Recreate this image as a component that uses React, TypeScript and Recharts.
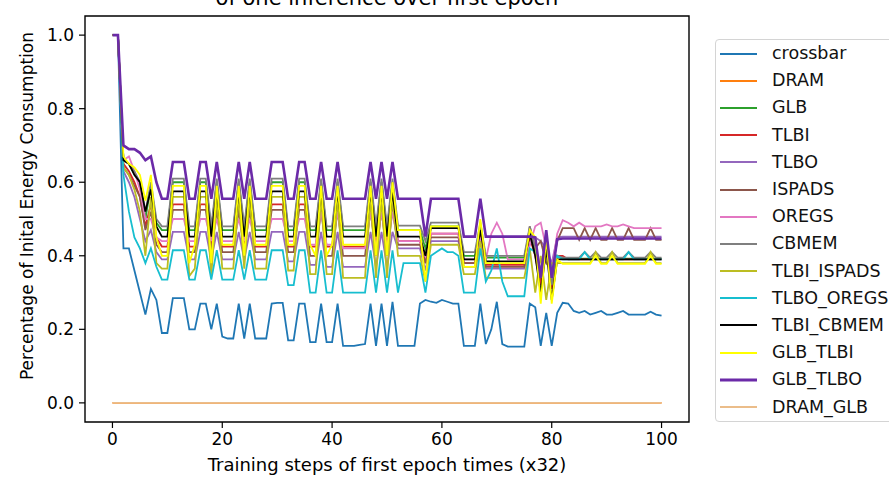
import React from 'react';
import { LineChart, Line, XAxis, YAxis, ReferenceArea } from 'recharts';

const steps = [
  0, 1, 2, 3, 4, 5, 6, 7, 8, 9,
  10, 11, 12, 13, 14, 15, 16, 17, 18, 19,
  20, 21, 22, 23, 24, 25, 26, 27, 28, 29,
  30, 31, 32, 33, 34, 35, 36, 37, 38, 39,
  40, 41, 42, 43, 44, 45, 46, 47, 48, 49,
  50, 51, 52, 53, 54, 55, 56, 57, 58, 59,
  60, 61, 62, 63, 64, 65, 66, 67, 68, 69,
  70, 71, 72, 73, 74, 75, 76, 77, 78, 79,
  80, 81, 82, 83, 84, 85, 86, 87, 88, 89,
  90, 91, 92, 93, 94, 95, 96, 97, 98, 99, 100,
];

const xTicks = [0, 20, 40, 60, 80, 100];
const yTicks = [0, 0.2, 0.4, 0.6, 0.8, 1.0];

const crossbar = [
  1.0, 1.0, 0.42, 0.42, 0.36, 0.30, 0.24, 0.31, 0.28, 0.19,
  0.19, 0.285, 0.285, 0.285, 0.20, 0.20, 0.27, 0.27, 0.20, 0.27,
  0.18, 0.175, 0.175, 0.27, 0.175, 0.27, 0.175, 0.175, 0.175, 0.27,
  0.272, 0.272, 0.17, 0.17, 0.27, 0.27, 0.165, 0.165, 0.27, 0.165,
  0.165, 0.27, 0.155, 0.155, 0.155, 0.158, 0.16, 0.27, 0.155, 0.27,
  0.155, 0.275, 0.155, 0.155, 0.155, 0.155, 0.27, 0.28, 0.275, 0.272,
  0.28, 0.275, 0.27, 0.27, 0.155, 0.155, 0.155, 0.27, 0.16, 0.2,
  0.275, 0.16, 0.153, 0.153, 0.153, 0.153, 0.27, 0.26, 0.155, 0.245,
  0.155, 0.245, 0.272, 0.27, 0.25, 0.245, 0.25, 0.24, 0.245, 0.25,
  0.24, 0.24, 0.245, 0.25, 0.24, 0.24, 0.24, 0.24, 0.248, 0.24, 0.237,
];

const dram = [
  0, 0, 0, 0, 0, 0, 0, 0, 0, 0,
  0, 0, 0, 0, 0, 0, 0, 0, 0, 0,
  0, 0, 0, 0, 0, 0, 0, 0, 0, 0,
  0, 0, 0, 0, 0, 0, 0, 0, 0, 0,
  0, 0, 0, 0, 0, 0, 0, 0, 0, 0,
  0, 0, 0, 0, 0, 0, 0, 0, 0, 0,
  0, 0, 0, 0, 0, 0, 0, 0, 0, 0,
  0, 0, 0, 0, 0, 0, 0, 0, 0, 0,
  0, 0, 0, 0, 0, 0, 0, 0, 0, 0,
  0, 0, 0, 0, 0, 0, 0, 0, 0, 0, 0,
];

const glb = [
  1.0, 1.0, 0.66, 0.65, 0.62, 0.60, 0.50, 0.59, 0.49, 0.47,
  0.47, 0.60, 0.60, 0.60, 0.47, 0.47, 0.60, 0.60, 0.47, 0.60,
  0.47, 0.47, 0.47, 0.60, 0.47, 0.60, 0.47, 0.47, 0.47, 0.60,
  0.60, 0.60, 0.47, 0.47, 0.60, 0.60, 0.47, 0.47, 0.60, 0.47,
  0.47, 0.60, 0.47, 0.47, 0.47, 0.47, 0.47, 0.60, 0.47, 0.60,
  0.47, 0.60, 0.47, 0.47, 0.47, 0.47, 0.47, 0.42, 0.48, 0.48,
  0.48, 0.48, 0.48, 0.48, 0.40, 0.40, 0.40, 0.48, 0.395, 0.395,
  0.395, 0.395, 0.395, 0.395, 0.395, 0.395, 0.47, 0.41, 0.33, 0.43,
  0.31, 0.40, 0.395, 0.392, 0.392, 0.392, 0.392, 0.392, 0.392, 0.392,
  0.392, 0.392, 0.392, 0.392, 0.392, 0.392, 0.392, 0.392, 0.392, 0.392, 0.392,
];

const tlbi = [
  1.0, 1.0, 0.65, 0.63, 0.60, 0.56, 0.48, 0.54, 0.45, 0.425,
  0.425, 0.54, 0.54, 0.54, 0.425, 0.425, 0.54, 0.54, 0.425, 0.54,
  0.425, 0.425, 0.425, 0.54, 0.425, 0.54, 0.425, 0.425, 0.425, 0.54,
  0.54, 0.54, 0.425, 0.425, 0.54, 0.54, 0.425, 0.425, 0.54, 0.425,
  0.425, 0.54, 0.425, 0.425, 0.425, 0.425, 0.425, 0.54, 0.425, 0.54,
  0.425, 0.54, 0.44, 0.44, 0.44, 0.44, 0.44, 0.38, 0.46, 0.46,
  0.46, 0.46, 0.46, 0.46, 0.38, 0.38, 0.38, 0.46, 0.375, 0.375,
  0.375, 0.375, 0.375, 0.375, 0.375, 0.375, 0.45, 0.40, 0.32, 0.42,
  0.31, 0.40, 0.40, 0.39, 0.39, 0.39, 0.39, 0.39, 0.39, 0.39,
  0.39, 0.39, 0.39, 0.39, 0.39, 0.39, 0.39, 0.39, 0.39, 0.39, 0.39,
];

const tlbo = [
  1.0, 1.0, 0.63, 0.60, 0.56, 0.50, 0.44, 0.47, 0.41, 0.39,
  0.39, 0.465, 0.465, 0.465, 0.39, 0.39, 0.465, 0.465, 0.39, 0.465,
  0.39, 0.39, 0.39, 0.465, 0.39, 0.465, 0.39, 0.39, 0.39, 0.465,
  0.465, 0.465, 0.385, 0.385, 0.465, 0.465, 0.375, 0.375, 0.465, 0.37,
  0.37, 0.465, 0.37, 0.37, 0.37, 0.37, 0.37, 0.465, 0.37, 0.465,
  0.37, 0.465, 0.42, 0.42, 0.42, 0.42, 0.42, 0.36, 0.44, 0.44,
  0.44, 0.44, 0.44, 0.44, 0.37, 0.37, 0.37, 0.44, 0.365, 0.365,
  0.365, 0.365, 0.365, 0.365, 0.365, 0.365, 0.43, 0.45, 0.44, 0.42,
  0.38, 0.45, 0.452, 0.452, 0.452, 0.452, 0.452, 0.452, 0.452, 0.452,
  0.452, 0.452, 0.452, 0.452, 0.452, 0.452, 0.452, 0.452, 0.452, 0.452, 0.452,
];

const ispads = [
  1.0, 1.0, 0.64, 0.62, 0.59, 0.56, 0.47, 0.52, 0.43, 0.41,
  0.41, 0.525, 0.525, 0.525, 0.41, 0.41, 0.525, 0.525, 0.41, 0.525,
  0.41, 0.41, 0.41, 0.525, 0.41, 0.525, 0.41, 0.41, 0.41, 0.525,
  0.525, 0.525, 0.41, 0.41, 0.525, 0.525, 0.40, 0.40, 0.525, 0.40,
  0.40, 0.525, 0.40, 0.40, 0.40, 0.40, 0.40, 0.525, 0.40, 0.525,
  0.40, 0.525, 0.43, 0.43, 0.43, 0.43, 0.43, 0.38, 0.45, 0.45,
  0.45, 0.45, 0.45, 0.45, 0.38, 0.38, 0.38, 0.45, 0.37, 0.37,
  0.37, 0.37, 0.37, 0.37, 0.37, 0.37, 0.48, 0.42, 0.44, 0.38,
  0.36, 0.44, 0.475, 0.475, 0.475, 0.443, 0.475, 0.443, 0.475, 0.443,
  0.443, 0.475, 0.443, 0.443, 0.475, 0.443, 0.443, 0.443, 0.475, 0.443, 0.443,
];

const oregs = [
  1.0, 1.0, 0.66, 0.67, 0.63, 0.58, 0.50, 0.50, 0.45, 0.44,
  0.44, 0.50, 0.50, 0.50, 0.44, 0.44, 0.50, 0.50, 0.44, 0.50,
  0.44, 0.44, 0.44, 0.50, 0.44, 0.50, 0.44, 0.44, 0.44, 0.50,
  0.50, 0.50, 0.44, 0.44, 0.50, 0.50, 0.43, 0.43, 0.52, 0.43,
  0.43, 0.52, 0.42, 0.42, 0.42, 0.42, 0.42, 0.52, 0.42, 0.52,
  0.42, 0.52, 0.44, 0.44, 0.44, 0.44, 0.44, 0.40, 0.46, 0.46,
  0.46, 0.46, 0.46, 0.46, 0.39, 0.39, 0.39, 0.45, 0.39, 0.46,
  0.49, 0.46, 0.39, 0.39, 0.39, 0.39, 0.43, 0.48, 0.49, 0.42,
  0.36, 0.46, 0.497, 0.49, 0.48, 0.49, 0.48, 0.48, 0.48, 0.48,
  0.485, 0.48, 0.48, 0.485, 0.48, 0.475, 0.475, 0.475, 0.475, 0.475, 0.475,
];

const cbmem = [
  1.0, 1.0, 0.66, 0.65, 0.63, 0.60, 0.52, 0.60, 0.50, 0.48,
  0.48, 0.61, 0.61, 0.61, 0.48, 0.48, 0.61, 0.61, 0.48, 0.61,
  0.48, 0.48, 0.48, 0.61, 0.48, 0.61, 0.48, 0.48, 0.48, 0.61,
  0.61, 0.61, 0.48, 0.48, 0.61, 0.61, 0.48, 0.48, 0.61, 0.48,
  0.48, 0.61, 0.48, 0.48, 0.48, 0.48, 0.48, 0.61, 0.48, 0.61,
  0.48, 0.61, 0.482, 0.482, 0.482, 0.482, 0.482, 0.44, 0.49, 0.49,
  0.49, 0.49, 0.49, 0.49, 0.41, 0.41, 0.41, 0.49, 0.40, 0.40,
  0.40, 0.40, 0.40, 0.40, 0.40, 0.40, 0.48, 0.42, 0.36, 0.44,
  0.32, 0.40, 0.395, 0.395, 0.395, 0.395, 0.41, 0.395, 0.41, 0.395,
  0.395, 0.41, 0.395, 0.395, 0.41, 0.395, 0.395, 0.395, 0.41, 0.395, 0.395,
];

const tlbiIspads = [
  1.0, 1.0, 0.64, 0.62, 0.58, 0.52, 0.40, 0.56, 0.38, 0.365,
  0.365, 0.56, 0.56, 0.56, 0.345, 0.365, 0.56, 0.56, 0.345, 0.56,
  0.365, 0.365, 0.365, 0.56, 0.365, 0.56, 0.365, 0.365, 0.365, 0.56,
  0.56, 0.56, 0.36, 0.36, 0.56, 0.56, 0.35, 0.35, 0.56, 0.35,
  0.35, 0.56, 0.34, 0.34, 0.34, 0.34, 0.34, 0.56, 0.34, 0.56,
  0.34, 0.56, 0.40, 0.40, 0.40, 0.40, 0.40, 0.33, 0.43, 0.43,
  0.43, 0.43, 0.43, 0.43, 0.35, 0.35, 0.35, 0.44, 0.34, 0.34,
  0.34, 0.34, 0.34, 0.34, 0.34, 0.34, 0.42, 0.30, 0.40, 0.28,
  0.38, 0.38, 0.38, 0.38, 0.38, 0.38, 0.38, 0.38, 0.41, 0.38,
  0.38, 0.41, 0.38, 0.38, 0.38, 0.38, 0.38, 0.38, 0.41, 0.38, 0.38,
];

const tlboOregs = [
  1.0, 1.0, 0.62, 0.52, 0.45, 0.42, 0.38, 0.42, 0.37, 0.335,
  0.335, 0.415, 0.415, 0.415, 0.335, 0.335, 0.415, 0.415, 0.335, 0.415,
  0.335, 0.335, 0.335, 0.415, 0.335, 0.415, 0.335, 0.335, 0.335, 0.415,
  0.415, 0.415, 0.32, 0.32, 0.415, 0.415, 0.30, 0.30, 0.415, 0.30,
  0.30, 0.415, 0.30, 0.30, 0.30, 0.30, 0.30, 0.415, 0.30, 0.415,
  0.30, 0.415, 0.30, 0.38, 0.38, 0.38, 0.38, 0.30, 0.40, 0.41,
  0.42, 0.41, 0.41, 0.40, 0.30, 0.30, 0.30, 0.42, 0.33, 0.36,
  0.42, 0.33, 0.29, 0.29, 0.29, 0.29, 0.42, 0.41, 0.36, 0.42,
  0.36, 0.40, 0.39, 0.39, 0.39, 0.39, 0.41, 0.39, 0.39, 0.39,
  0.39, 0.39, 0.39, 0.39, 0.41, 0.39, 0.39, 0.39, 0.39, 0.39, 0.39,
];

const tlbiCbmem = [
  1.0, 1.0, 0.66, 0.65, 0.62, 0.60, 0.52, 0.58, 0.48, 0.452,
  0.452, 0.575, 0.575, 0.575, 0.452, 0.452, 0.575, 0.575, 0.452, 0.575,
  0.452, 0.452, 0.452, 0.575, 0.452, 0.575, 0.452, 0.452, 0.452, 0.575,
  0.575, 0.575, 0.452, 0.452, 0.575, 0.575, 0.452, 0.452, 0.575, 0.452,
  0.452, 0.575, 0.452, 0.452, 0.452, 0.452, 0.452, 0.575, 0.452, 0.575,
  0.452, 0.575, 0.452, 0.452, 0.452, 0.452, 0.452, 0.40, 0.475, 0.475,
  0.475, 0.475, 0.475, 0.475, 0.39, 0.39, 0.39, 0.47, 0.385, 0.385,
  0.385, 0.385, 0.385, 0.385, 0.385, 0.385, 0.46, 0.40, 0.30, 0.42,
  0.28, 0.39, 0.39, 0.39, 0.39, 0.39, 0.39, 0.39, 0.39, 0.39,
  0.39, 0.39, 0.39, 0.39, 0.39, 0.39, 0.39, 0.39, 0.39, 0.39, 0.39,
];

const glbTlbi = [
  1.0, 1.0, 0.67, 0.65, 0.64, 0.62, 0.55, 0.62, 0.45, 0.40,
  0.40, 0.59, 0.59, 0.59, 0.38, 0.43, 0.59, 0.59, 0.38, 0.59,
  0.43, 0.43, 0.43, 0.59, 0.40, 0.59, 0.43, 0.43, 0.43, 0.59,
  0.59, 0.59, 0.43, 0.43, 0.59, 0.59, 0.43, 0.40, 0.59, 0.40,
  0.43, 0.59, 0.43, 0.43, 0.43, 0.43, 0.43, 0.59, 0.40, 0.59,
  0.40, 0.60, 0.47, 0.47, 0.47, 0.47, 0.47, 0.33, 0.48, 0.48,
  0.48, 0.48, 0.48, 0.48, 0.37, 0.37, 0.37, 0.50, 0.38, 0.38,
  0.38, 0.38, 0.38, 0.38, 0.38, 0.38, 0.47, 0.45, 0.27, 0.45,
  0.27, 0.39, 0.378, 0.378, 0.378, 0.378, 0.378, 0.378, 0.40, 0.378,
  0.378, 0.40, 0.378, 0.378, 0.378, 0.378, 0.378, 0.378, 0.40, 0.378, 0.378,
];

const glbTlbo = [
  1.0, 1.0, 0.70, 0.69, 0.69, 0.68, 0.66, 0.67, 0.60, 0.555,
  0.555, 0.655, 0.655, 0.655, 0.555, 0.555, 0.655, 0.655, 0.555, 0.655,
  0.555, 0.555, 0.555, 0.655, 0.555, 0.655, 0.555, 0.555, 0.555, 0.655,
  0.655, 0.655, 0.555, 0.555, 0.655, 0.655, 0.555, 0.555, 0.655, 0.555,
  0.555, 0.655, 0.555, 0.555, 0.555, 0.555, 0.555, 0.655, 0.555, 0.655,
  0.555, 0.655, 0.555, 0.555, 0.555, 0.555, 0.555, 0.452, 0.555, 0.555,
  0.555, 0.555, 0.555, 0.555, 0.452, 0.452, 0.452, 0.555, 0.452, 0.452,
  0.452, 0.452, 0.452, 0.452, 0.452, 0.452, 0.452, 0.45, 0.34, 0.47,
  0.34, 0.445, 0.447, 0.447, 0.447, 0.447, 0.447, 0.447, 0.447, 0.447,
  0.447, 0.447, 0.447, 0.447, 0.447, 0.447, 0.447, 0.447, 0.447, 0.447, 0.447,
];

const dramGlb = [
  0, 0, 0, 0, 0, 0, 0, 0, 0, 0,
  0, 0, 0, 0, 0, 0, 0, 0, 0, 0,
  0, 0, 0, 0, 0, 0, 0, 0, 0, 0,
  0, 0, 0, 0, 0, 0, 0, 0, 0, 0,
  0, 0, 0, 0, 0, 0, 0, 0, 0, 0,
  0, 0, 0, 0, 0, 0, 0, 0, 0, 0,
  0, 0, 0, 0, 0, 0, 0, 0, 0, 0,
  0, 0, 0, 0, 0, 0, 0, 0, 0, 0,
  0, 0, 0, 0, 0, 0, 0, 0, 0, 0,
  0, 0, 0, 0, 0, 0, 0, 0, 0, 0, 0,
];

const series = [
  { key: 'crossbar', values: crossbar, color: '#1f77b4', width: 1.8 },
  { key: 'DRAM', values: dram, color: '#ff7f0e', width: 1.8 },
  { key: 'GLB', values: glb, color: '#2ca02c', width: 1.8 },
  { key: 'TLBI', values: tlbi, color: '#d62728', width: 1.8 },
  { key: 'TLBO', values: tlbo, color: '#9467bd', width: 1.8 },
  { key: 'ISPADS', values: ispads, color: '#8c564b', width: 1.8 },
  { key: 'OREGS', values: oregs, color: '#e377c2', width: 1.8 },
  { key: 'CBMEM', values: cbmem, color: '#7f7f7f', width: 1.8 },
  { key: 'TLBI_ISPADS', values: tlbiIspads, color: '#bcbd22', width: 1.8 },
  { key: 'TLBO_OREGS', values: tlboOregs, color: '#17becf', width: 1.8 },
  { key: 'TLBI_CBMEM', values: tlbiCbmem, color: '#000000', width: 1.8 },
  { key: 'GLB_TLBI', values: glbTlbi, color: '#ffff00', width: 1.8 },
  { key: 'GLB_TLBO', values: glbTlbo, color: '#6b2aa8', width: 2.6 },
  { key: 'DRAM_GLB', values: dramGlb, color: '#ebbd8a', width: 1.8 },
];

const data = steps.map((s, i) => {
  const row: Record<string, number> = { step: s };
  series.forEach((sr) => {
    row[sr.key] = sr.values[i];
  });
  return row;
});

const FONT = '"DejaVu Sans", sans-serif';
const FS = 17;

const renderXLabel = () => (
  <text x={387} y={471} textAnchor="middle" fontFamily={FONT} fontSize={18} fill="#000">
    Training steps of first epoch times (x32)
  </text>
);

const renderYLabel = () => (
  <text
    x={27}
    y={206}
    textAnchor="middle"
    dominantBaseline="central"
    transform="rotate(-90 27 206)"
    fontFamily={FONT}
    fontSize={FS}
    fill="#000"
  >
    Percentage of Inital Energy Consumption
  </text>
);

export default function App() {
  return (
    <div style={{ position: 'absolute', left: 0, top: 0, width: 889, height: 477, background: '#fff', overflow: 'hidden' }}>
      <div
        style={{
          position: 'absolute',
          left: 87,
          width: 600,
          top: -12,
          textAlign: 'center',
          fontFamily: FONT,
          fontSize: 21,
          lineHeight: '21px',
          color: '#000',
          whiteSpace: 'nowrap',
        }}
      >
        of one inference over first epoch
      </div>
      <LineChart
        width={889}
        height={477}
        data={data}
        margin={{ top: 16, right: 200, bottom: 23, left: 25 }}
        style={{ position: 'absolute', left: 0, top: 0 }}
      >
        <XAxis
          dataKey="step"
          type="number"
          domain={[-5, 105]}
          ticks={xTicks}
          allowDataOverflow
          height={32}
          axisLine={false}
          tickLine={{ stroke: '#000', strokeWidth: 1.2 }}
          tickSize={6}
          tickMargin={5}
          tick={{ fill: '#000', fontSize: FS, fontFamily: FONT }}
          label={renderXLabel}
        />
        <YAxis
          type="number"
          domain={[-0.052, 1.052]}
          ticks={yTicks}
          allowDataOverflow
          width={60}
          axisLine={false}
          tickLine={{ stroke: '#000', strokeWidth: 1.2 }}
          tickSize={6}
          tickMargin={5}
          tickFormatter={(v: number) => v.toFixed(1)}
          tick={{ fill: '#000', fontSize: FS, fontFamily: FONT }}
          label={renderYLabel}
        />
        {series.map((sr) => (
          <Line
            key={sr.key}
            type="linear"
            dataKey={sr.key}
            stroke={sr.color}
            strokeWidth={sr.width}
            dot={false}
            activeDot={false}
            isAnimationActive={false}
          />
        ))}
        <ReferenceArea
          x1={-5}
          x2={105}
          y1={-0.052}
          y2={1.052}
          fill="none"
          fillOpacity={0}
          stroke="#000"
          strokeWidth={1.4}
          ifOverflow="visible"
        />
      </LineChart>
      <div
        style={{
          position: 'absolute',
          left: 715,
          top: 39,
          width: 200,
          height: 381,
          border: '1px solid #d4d4d4',
          borderRadius: 4,
          background: '#fff',
          fontFamily: FONT,
          fontSize: 17.5,
          color: '#111',
        }}
      >
        {series.map((sr) => (
          <div key={sr.key} style={{ height: 27.2, display: 'flex', alignItems: 'center' }}>
            <svg width={41} height={8} style={{ display: 'block', flex: 'none' }}>
              <line x1={4} x2={41} y1={4} y2={4} stroke={sr.color} strokeWidth={sr.width + 0.3} />
            </svg>
            <div style={{ marginLeft: 15, whiteSpace: 'nowrap', lineHeight: '27px' }}>{sr.key}</div>
          </div>
        ))}
      </div>
    </div>
  );
}
